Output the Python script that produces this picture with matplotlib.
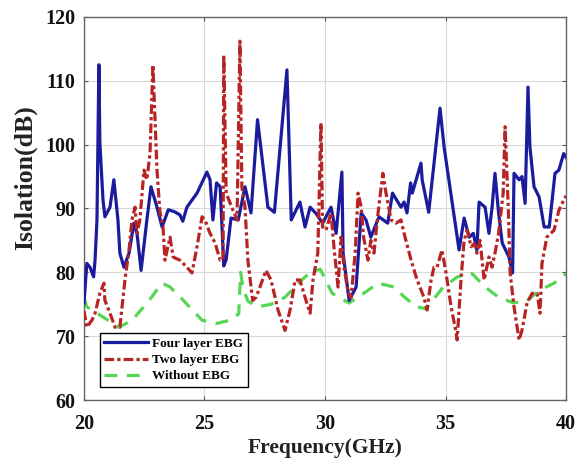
import matplotlib
matplotlib.use("Agg")
import matplotlib.pyplot as plt

# ---- data ----
freq_four = [20.0, 20.12, 20.25, 20.4, 20.46, 20.54, 20.62, 20.66, 20.79, 20.87, 21.08, 21.24, 21.41, 21.49,
             21.66, 21.87, 22.07, 22.2, 22.37, 22.61, 22.78, 23.03, 23.24, 23.5, 23.75, 23.98, 24.1, 24.27, 24.69,
             25.1, 25.23, 25.35, 25.5, 25.65, 25.8, 25.9, 26.1, 26.4, 26.68, 26.93, 27.2, 27.63, 27.9, 28.42,
             28.6, 28.96, 29.17, 29.38, 29.63, 29.9, 30.25, 30.46, 30.7, 30.75, 31.0, 31.29, 31.5, 31.7, 31.9,
             32.24, 32.6, 32.8, 33.15, 33.28, 33.4, 33.55, 33.62, 33.98, 34.03, 34.3, 34.77, 34.94, 35.56,
             35.77, 35.98, 36.15, 36.3, 36.39, 36.64, 36.8, 36.93, 37.05, 37.2, 37.35, 37.63, 37.78, 37.84,
             38.05, 38.17, 38.3, 38.42, 38.5, 38.67, 38.88, 39.09, 39.3, 39.54, 39.7, 39.9, 40.0]
iso_four = [75.2, 81.4, 80.8, 79.3, 81.9, 88.2, 112.5, 100.3, 91.3, 88.7, 90.2, 94.5, 88.2, 83.0,
            80.8, 83.0, 87.7, 86.1, 80.3, 88.2, 93.4, 90.2, 87.1, 89.8, 89.5, 89.0, 88.0, 90.2, 92.4,
            95.7, 94.5, 88.2, 94.0, 93.4, 81.0, 82.0, 88.5, 88.2, 93.4, 89.3, 103.9, 90.2, 89.4, 111.7,
            88.2, 91.0, 87.1, 90.2, 89.2, 87.7, 90.2, 86.1, 95.7, 83.0, 75.6, 77.7, 89.3, 88.2, 85.5,
            88.7, 87.7, 92.4, 90.2, 91.0, 89.3, 94.0, 92.4, 97.1, 94.5, 89.4, 105.7, 99.6, 83.5,
            88.5, 85.5, 86.1, 83.5, 91.0, 90.2, 86.1, 90.2, 95.5, 89.3, 84.6, 82.4, 79.9, 95.5,
            94.5, 95.0, 90.8, 109.0, 99.6, 93.4, 91.8, 87.1, 87.1, 95.5, 96.0, 98.6, 98.0]

freq_two = [20.0, 20.12, 20.33, 20.46, 20.66, 20.83, 20.87, 21.08, 21.29, 21.49, 21.7, 21.87, 21.99, 22.12,
            22.2, 22.32, 22.49, 22.61, 22.74, 22.86, 23.03, 23.15, 23.28, 23.36, 23.57, 23.7, 23.98, 24.27,
            24.48, 24.69, 24.9, 25.02, 25.23, 25.44, 25.65, 25.77, 25.8, 25.9, 26.13, 26.35, 26.47, 26.55,
            26.68, 26.8, 27.0, 27.14, 27.3, 27.55, 27.76, 28.05, 28.34, 28.55, 28.76, 28.96, 29.17, 29.38,
            29.5, 29.7, 29.83, 29.9, 30.04, 30.25, 30.37, 30.54, 30.66, 30.79, 30.95, 31.08, 31.25, 31.37,
            31.5, 31.6, 31.78, 31.9, 32.03, 32.2, 32.4, 32.53, 32.74, 32.95, 33.15, 33.28, 33.57, 33.82,
            34.1, 34.23, 34.4, 34.52, 34.65, 34.85, 35.02, 35.23, 35.44, 35.48, 35.64, 35.77, 35.9, 36.06,
            36.2, 36.3, 36.43, 36.6, 36.8, 36.93, 37.05, 37.2, 37.39, 37.47, 37.6, 37.68, 37.84, 38.05,
            38.17, 38.38, 38.59, 38.8, 38.92, 39.0, 39.2, 39.5, 39.7, 39.9, 40.0]
iso_two = [74.0, 71.4, 72.5, 73.6, 76.7, 78.3, 75.6, 73.6, 71.4, 71.4, 78.8, 83.5, 88.2, 90.2,
           86.1, 88.2, 96.0, 94.5, 98.6, 112.5, 96.0, 89.5, 87.1, 81.9, 85.5, 82.4, 81.9, 80.8,
           79.9, 84.0, 88.7, 88.2, 86.1, 84.6, 81.9, 82.0, 114.0, 92.4, 90.2, 88.2, 116.2, 93.4,
           90.2, 81.9, 75.6, 76.1, 77.7, 80.3, 78.8, 74.1, 70.9, 74.1, 78.8, 78.8, 76.1, 73.6,
           78.8, 83.0, 103.4, 87.1, 86.6, 89.3, 84.0, 77.7, 85.5, 80.8, 77.0, 76.0, 83.0, 92.4,
           90.2, 85.5, 81.9, 85.0, 83.0, 89.3, 95.5, 92.4, 88.2, 87.7, 88.2, 86.1, 81.9, 78.8,
           76.1, 74.1, 78.8, 80.8, 80.8, 83.5, 79.9, 74.6, 70.5, 69.4, 78.8, 85.0, 86.6, 84.0,
           84.5, 83.0, 85.0, 78.8, 82.4, 80.8, 83.0, 86.1, 92.4, 102.8, 90.2, 79.9, 74.6, 69.4,
           70.9, 75.2, 76.7, 76.7, 73.6, 81.4, 85.5, 86.6, 89.7, 91.3, 92.0]

freq_none = [20.0, 20.12, 20.54, 21.0, 21.45, 22.0, 22.7, 23.24, 23.57, 24.0, 24.5, 24.9, 25.5, 26.06,
             26.42, 26.5, 26.6, 26.8, 27.2, 27.76, 28.34, 28.9, 29.38, 29.8, 30.3, 31.0, 31.6, 32.2,
             32.86, 33.3, 33.8, 34.2, 34.9, 35.5, 36.1, 36.64, 37.2, 37.76, 38.3, 38.9, 39.5, 40.0]
iso_none = [76.0, 74.6, 73.6, 72.5, 71.4, 72.5, 75.6, 78.3, 77.7, 76.1, 74.1, 72.5, 72.0, 72.5,
            73.5, 80.0, 77.5, 75.5, 74.6, 75.0, 76.1, 78.3, 80.0, 80.5, 76.7, 75.2, 76.7, 78.3,
            77.7, 76.1, 74.6, 74.3, 77.7, 79.3, 79.8, 77.7, 76.1, 75.3, 75.3, 77.2, 78.3, 79.8]

labels = ["Four layer EBG", "Two layer EBG", "Without EBG"]
xticks = [20, 25, 30, 35, 40]
yticks = [60, 70, 80, 90, 100, 110, 120]

plt.rcParams['font.family'] = ['Liberation Serif', 'DejaVu Serif']
plt.rcParams['font.weight'] = 'bold'

fig = plt.figure(figsize=(5.83, 4.69), dpi=100)
ax = fig.add_axes([0.144, 0.147, 0.827, 0.817])

ax.plot(freq_four, iso_four, color='#1b1b9e', lw=2.3, ls='-', label=labels[0], zorder=3)
ax.plot(freq_two, iso_two, color='#b82424', lw=2.3, ls=(0, (3, 1, 1, 1)), label=labels[1], zorder=4)
ax.plot(freq_none, iso_none, color='#55d655', lw=2.3, ls=(0, (4, 3)), label=labels[2], zorder=2)

ax.set_xlim(20, 40)
ax.set_ylim(60, 120)
ax.set_xticks(xticks)
ax.set_yticks(yticks)
ax.grid(True, color='#d9d9d9', lw=0.8)
ax.set_axisbelow(True)
ax.tick_params(direction='in', length=3, top=True, right=True, labelsize=14.5, colors='#555555',
               labelcolor='#111111')
ax.tick_params(axis='x', pad=10)
ax.tick_params(axis='y', pad=6)
for lab in ax.get_xticklabels() + ax.get_yticklabels():
    lab.set_fontweight('bold')
for s in ax.spines.values():
    s.set_color('#666666')
    s.set_linewidth(1.0)

ax.set_xlabel("Frequency(GHz)", fontsize=15.5, fontweight='bold', color='#222222', labelpad=3)
ax.set_ylabel("Isolation(dB)", fontsize=18.5, fontweight='bold', color='#222222')
ax.yaxis.set_label_coords(-0.098, 0.58)

leg = ax.legend(loc='lower left', bbox_to_anchor=(0.033, 0.034), frameon=True, fancybox=False,
                edgecolor='black', framealpha=1, prop={'size': 9.5, 'weight': 'bold'},
                handlelength=3.3, borderpad=0.35, labelspacing=0.3, handletextpad=0.3, borderaxespad=0)
leg.get_frame().set_linewidth(1.0)

fig.savefig("out.png", dpi=100)
